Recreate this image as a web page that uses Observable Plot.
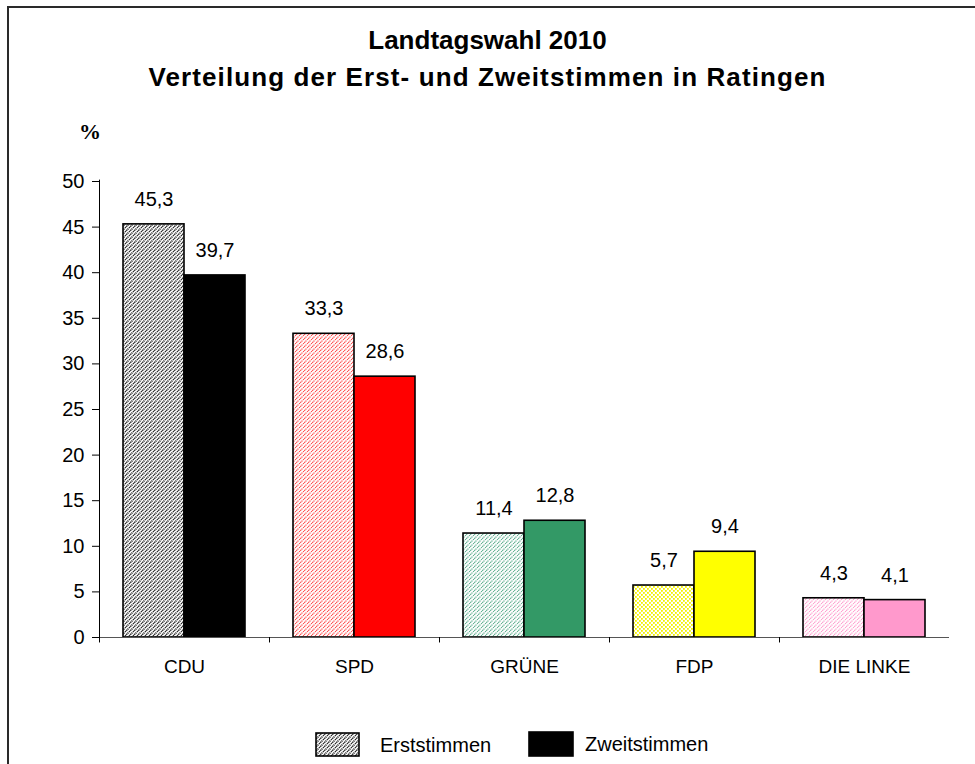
<!DOCTYPE html>
<html>
<head>
<meta charset="utf-8">
<script src="https://cdn.jsdelivr.net/npm/d3@7"></script>
<script src="https://cdn.jsdelivr.net/npm/@observablehq/plot@0.6"></script>
<style>
  html, body { margin: 0; padding: 0; background: #fff; }
  #wrap { position: relative; width: 975px; height: 764px; overflow: hidden; font-family: "Liberation Sans", Arial, sans-serif; color: #000; }
  #frame { position: absolute; left: 7px; top: 6px; width: 1100px; height: 900px; border-left: 2px solid #2a2a2a; border-top: 2px solid #2a2a2a; }
  .title { position: absolute; left: 0; width: 975px; text-align: center; font-weight: bold; font-size: 26px; line-height: 26px; }
  #pct { position: absolute; left: 79px; top: 121px; font-family: "Liberation Serif", "Times New Roman", serif; font-weight: bold; font-size: 22px; line-height: 22px; }
  #chart { position: absolute; left: 0; top: 0; }
  .leg { position: absolute; font-size: 20px; line-height: 20px; }
</style>
</head>
<body>
<div id="wrap">
  <div id="frame"></div>
  <div class="title" style="top:27px">Landtagswahl 2010</div>
  <div class="title" style="top:64px; letter-spacing:1.1px">Verteilung der Erst- und Zweitstimmen in Ratingen</div>
  <div id="pct">%</div>
  <div id="chart"></div>
</div>
<svg width="0" height="0" style="position:absolute">
  <defs id="patdefs"></defs>
</svg>
<script>
// ---- data ----
const parties = ["CDU", "SPD", "GRÜNE", "FDP", "DIE LINKE"];
const types = ["Erststimmen", "Zweitstimmen"];
const erststimmen = [45.3, 33.3, 11.4, 5.7, 4.3];
const zweitstimmen = [39.7, 28.6, 12.8, 9.4, 4.1];
const solidColors = ["#000000", "#ff0000", "#339966", "#ffff00", "#ff99cc"];
const hatchColors = ["#202020", "#ff4040", "#55aa88", "#f2f200", "#ff99cc"];
const yTicks = [0, 5, 10, 15, 20, 25, 30, 35, 40, 45, 50];

// ---- patterns ----
const defs = document.getElementById("patdefs");
const ns = "http://www.w3.org/2000/svg";
function makePattern(id, color, dotted, sw) {
  const p = document.createElementNS(ns, "pattern");
  p.setAttribute("id", id);
  p.setAttribute("patternUnits", "userSpaceOnUse");
  p.setAttribute("width", 4);
  p.setAttribute("height", 4);
  const r = document.createElementNS(ns, "rect");
  r.setAttribute("width", 4); r.setAttribute("height", 4); r.setAttribute("fill", "#fff");
  p.appendChild(r);
  if (dotted) {
    [[0,0],[2,2]].forEach(([x,y]) => {
      const c = document.createElementNS(ns, "rect");
      c.setAttribute("x", x); c.setAttribute("y", y);
      c.setAttribute("width", 1.8); c.setAttribute("height", 1.8);
      c.setAttribute("fill", color);
      p.appendChild(c);
    });
  } else {
    const path = document.createElementNS(ns, "path");
    path.setAttribute("d", "M-1,1 L1,-1 M0,4 L4,0 M3,5 L5,3");
    path.setAttribute("stroke", color);
    path.setAttribute("stroke-width", sw);
    path.setAttribute("stroke-dasharray", "1.2 0.6");
    p.appendChild(path);
  }
  defs.appendChild(p);
}
parties.forEach((p, i) => makePattern("pat" + i, hatchColors[i], i === 3, i === 0 ? 1.5 : 1.2));

const data = parties.flatMap((p, i) => [
  {party: p, type: types[0], value: erststimmen[i], fill: `url(#pat${i})`},
  {party: p, type: types[1], value: zweitstimmen[i], fill: solidColors[i]}
]);

// ---- layout ----
const W = 975, H = 700, mL = 98, mR = 25, mT = 181, mB = 63;
const xPad = 0.387;
const facetW = (W - mL - mR) / parties.length;
const step = facetW / (2 + 2 * xPad);
const erstCenter = xPad * step + step / 2;
const fmt = v => v.toFixed(1).replace(".", ",");

const chart = Plot.plot({
  width: W, height: H,
  marginLeft: mL, marginRight: mR, marginTop: mT, marginBottom: mB,
  style: {fontFamily: "'Liberation Sans', Arial, sans-serif", fontSize: "19px", color: "#000", background: "transparent", overflow: "visible"},
  fx: {domain: parties, padding: 0, label: null},
  x: {domain: types, paddingInner: 0, paddingOuter: xPad, axis: null},
  y: {domain: [0, 50], label: null},
  color: {type: "identity"},
  marks: [
    Plot.axisY({ticks: yTicks, tickSize: 7, tickPadding: 8, tickFormat: d => String(d), label: null, fontSize: 20, stroke: "#000"}),
    Plot.axisFx({anchor: "bottom", tickSize: 0, tickPadding: 22, label: null, fontSize: 19}),
    Plot.barY(data, {fx: "party", x: "type", y: "value", fill: "fill", stroke: "#000", strokeWidth: 1.6}),
    Plot.text(data, {fx: "party", x: "type", y: "value", text: d => fmt(d.value), dy: -25, fontSize: 20, fill: "#000"}),
    Plot.ruleY([0], {stroke: "#555", strokeWidth: 1.2}),
    Plot.ruleX(parties.map(p => ({party: p})), {fx: "party", x: () => types[0], dx: -erstCenter, y1: -0.6, y2: 0, stroke: "#000", strokeWidth: 1}),
    Plot.ruleX([{party: parties[0]}], {fx: "party", x: () => types[0], dx: -erstCenter, y1: 0, y2: 50.15, stroke: "#000", strokeWidth: 1})
  ]
});
document.getElementById("chart").appendChild(chart);

// ---- legend ----
const wrap = document.getElementById("wrap");
const legItems = [
  {label: types[0], fill: "url(#pat0)", sw: [315, 732, 45, 25], tx: 380},
  {label: types[1], fill: solidColors[0], sw: [528, 731, 46, 26], tx: 585}
];
legItems.forEach(it => {
  const s = document.createElementNS(ns, "svg");
  s.setAttribute("width", it.sw[2]); s.setAttribute("height", it.sw[3]);
  s.style.position = "absolute"; s.style.left = it.sw[0] + "px"; s.style.top = it.sw[1] + "px";
  const r = document.createElementNS(ns, "rect");
  r.setAttribute("x", 1); r.setAttribute("y", 1);
  r.setAttribute("width", it.sw[2] - 2); r.setAttribute("height", it.sw[3] - 2);
  r.setAttribute("fill", it.fill); r.setAttribute("stroke", "#000"); r.setAttribute("stroke-width", 1.6);
  s.appendChild(r);
  wrap.appendChild(s);
  const t = document.createElement("div");
  t.className = "leg"; t.textContent = it.label;
  t.style.left = it.tx + "px"; t.style.top = (it.sw[1] + it.sw[3] / 2 - 10) + "px";
  wrap.appendChild(t);
});
</script>
</body>
</html>
